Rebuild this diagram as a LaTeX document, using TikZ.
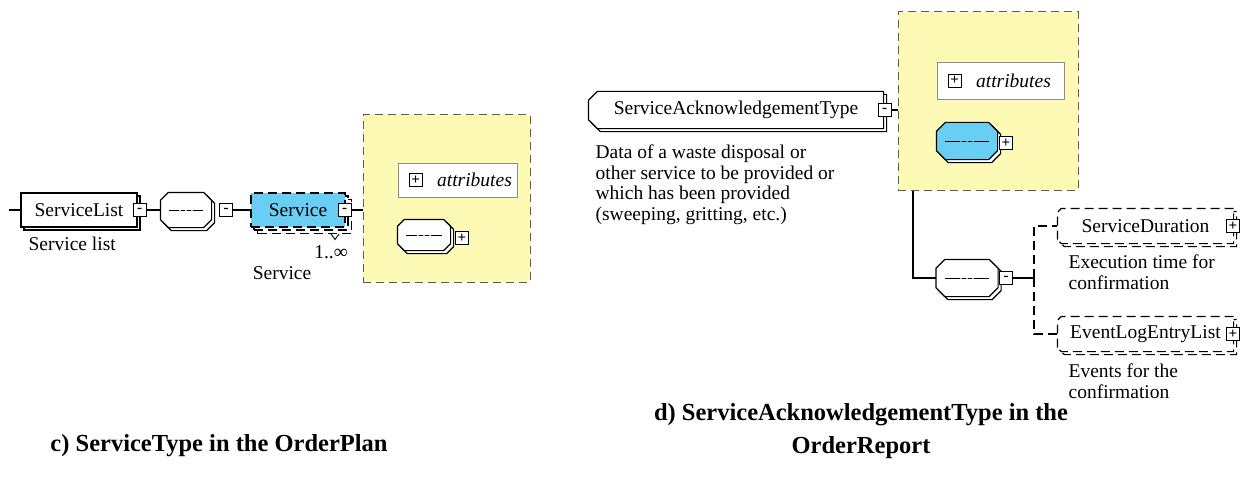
\documentclass[tikz,border=0pt]{standalone}
\usepackage{fontspec}
\setmainfont{Liberation Serif}
\usetikzlibrary{positioning,shadows}

\definecolor{xsdblue}{RGB}{104,206,244}
\definecolor{xsdyellow}{RGB}{252,250,180}
\definecolor{xsdgray}{RGB}{95,92,80}

\newcommand{\lblsize}{\fontsize{19.5}{20.7}\selectfont}

% box with cut-off corners (left and right cut can differ)
\makeatletter
\pgfkeys{/pgf/cut left/.initial=8pt, /pgf/cut right/.initial=8pt}
\pgfdeclareshape{cutbox}{%
  \inheritsavedanchors[from=rectangle]%
  \inheritanchorborder[from=rectangle]%
  \inheritanchor[from=rectangle]{center}%
  \inheritanchor[from=rectangle]{north}%
  \inheritanchor[from=rectangle]{south}%
  \inheritanchor[from=rectangle]{east}%
  \inheritanchor[from=rectangle]{west}%
  \inheritanchor[from=rectangle]{north east}%
  \inheritanchor[from=rectangle]{north west}%
  \inheritanchor[from=rectangle]{south east}%
  \inheritanchor[from=rectangle]{south west}%
  \inheritanchor[from=rectangle]{base}%
  \inheritanchor[from=rectangle]{mid}%
  \saveddimen\cutl{\pgfmathsetlength\pgf@x{\pgfkeysvalueof{/pgf/cut left}}}%
  \saveddimen\cutr{\pgfmathsetlength\pgf@x{\pgfkeysvalueof{/pgf/cut right}}}%
  \backgroundpath{%
    \southwest \edef\cxa{\the\pgf@x}\edef\cya{\the\pgf@y}%
    \northeast \edef\cxb{\the\pgf@x}\edef\cyb{\the\pgf@y}%
    \pgfpathmoveto{\pgfqpoint{\cxa}{\dimexpr\cya+\cutl\relax}}%
    \pgfpathlineto{\pgfqpoint{\cxa}{\dimexpr\cyb-\cutl\relax}}%
    \pgfpathlineto{\pgfqpoint{\dimexpr\cxa+\cutl\relax}{\cyb}}%
    \pgfpathlineto{\pgfqpoint{\dimexpr\cxb-\cutr\relax}{\cyb}}%
    \pgfpathlineto{\pgfqpoint{\cxb}{\dimexpr\cyb-\cutr\relax}}%
    \pgfpathlineto{\pgfqpoint{\cxb}{\dimexpr\cya+\cutr\relax}}%
    \pgfpathlineto{\pgfqpoint{\dimexpr\cxb-\cutr\relax}{\cya}}%
    \pgfpathlineto{\pgfqpoint{\dimexpr\cxa+\cutl\relax}{\cya}}%
    \pgfpathclose
  }%
}
\makeatother

\begin{document}
\begin{tikzpicture}[x=1pt, y=-1pt, line width=1.2pt,
    dsh/.style={dash pattern=on 9pt off 5pt},
    shd/.style={copy shadow={shadow xshift=3pt, shadow yshift=-3pt, fill=white, draw=black}},
    box/.style={rectangle, draw, fill=white, minimum height=34pt, inner sep=0pt, font=\lblsize},
    el/.style={box, shd},
    elm/.style={box, copy shadow={shadow xshift=6.5pt, shadow yshift=-6.5pt, fill=white, draw=black}, shd},
    ct/.style={cutbox, cut left=9pt, cut right=0pt, draw, fill=white, shd, minimum height=36pt, inner sep=0pt, font=\lblsize},
    seq/.style={cutbox, cut left=8pt, cut right=8pt, draw, fill=white, shd, minimum width=50pt, minimum height=34pt, inner sep=0pt,
      path picture={
        \draw[line width=1pt] ([xshift=9pt]path picture bounding box.west) -- ([xshift=-9pt]path picture bounding box.east);
        \foreach \d in {-6,0,6} \fill ([xshift=\d pt]path picture bounding box.center) circle (1.1pt);}},
    tog/.style={rectangle, draw, fill=white, minimum size=13pt, inner sep=0pt, line width=0.9pt, font=\fontsize{15}{15}\selectfont\bfseries},
    grp/.style={rectangle, draw=xsdgray, fill=xsdyellow, dash pattern=on 8pt off 5pt, line width=1pt},
    attr/.style={rectangle, draw=black!45, fill=white, line width=0.8pt, minimum height=34pt},
    lbl/.style={inner sep=0pt, font=\lblsize, align=left},
    captxt/.style={inner sep=0pt, font=\fontsize{24.5}{33}\selectfont\bfseries, align=center}]
  \useasboundingbox (0,0) rectangle (1257,484);

  % c) ServiceType in the OrderPlan
  \coordinate (start) at (9,210);
  \node[el, minimum width=116pt] (SL) at (79,210) {ServiceList};
  \node[tog] (SLt) at ([xshift=2pt]SL.east) {-};
  \node[seq] (S1) at (186,210) {};
  \node[tog] (S1t) at (226,210) {-};
  \node[elm, fill=xsdblue, dsh, minimum width=94pt] (Svc) at (298,210) {Service};
  \node[tog] (Svct) at ([xshift=-1pt]Svc.east) {-};
  \draw[fill=white, line width=0.9pt] (331,234) -- (335,239.5) -- (339,234);
  \node[grp, minimum width=167pt, minimum height=167pt] (Y1) at (446.5,198.5) {};
  \node[attr, minimum width=119pt] (A1) at (457.5,180) {};
  \node[tog, right=11pt of A1.west] (A1t) {+};
  \node[lbl, font=\lblsize\itshape, right=14pt of A1t] (A1l) {attributes};
  \node[seq, cut left=7pt, cut right=7pt, minimum width=52pt, minimum height=30pt] (S2) at (424,235) {};
  \node[tog] (S2t) at (462,238) {+};

  \node[lbl, anchor=base west] (SLd) at (28,250) {Service list};
  \node[lbl, anchor=base] (Svcm) at (331,258) {1..∞};
  \node[lbl, anchor=base] (Svcd) at (282,279) {Service};

  \draw (start) -- (SL.west);
  \draw (SLt) -- (S1.west);
  \draw (S1t) -- (Svc.west);
  \draw (Svct) -- (Y1.west |- Svct);

  % d) ServiceAcknowledgementType in the OrderReport
  \node[ct, minimum width=294pt] (SAT) at (736,110) {ServiceAcknowledgementType};
  \node[tog] (SATt) at ([xshift=1pt]SAT.east) {-};
  \node[grp, minimum width=180pt, minimum height=178pt] (Y2) at (988,101) {};
  \node[attr, minimum width=127pt, minimum height=37pt] (A2) at (1000.5,80.5) {};
  \node[tog, right=11pt of A2.west] (A2t) {+};
  \node[lbl, font=\lblsize\itshape, right=14pt of A2t] (A2l) {attributes};
  \node[seq, fill=xsdblue, cut left=9pt, cut right=9pt, minimum width=60pt, minimum height=36pt] (S3) at (967,141) {};
  \node[tog] (S3t) at (1006,143) {+};
  \node[seq, cut left=9pt, cut right=9pt, minimum width=61pt, minimum height=36pt] (S4) at (967,278) {};
  \node[tog] (S4t) at (1006,278) {-};
  \coordinate (J) at (1034,278);
  \node[ct, dsh, cut left=4pt, minimum width=175pt, minimum height=34pt] (SD) at (1145.5,226) {ServiceDuration};
  \node[tog] (SDt) at (1233,226) {+};
  \node[ct, dsh, cut left=4pt, minimum width=175pt, minimum height=34pt] (ELL) at (1145.5,334) {EventLogEntryList};
  \node[tog] (ELLt) at (1233,334) {+};

  \node[lbl, anchor=base west] (SATd) at (595,220.5) {Data of a waste disposal or\\other service to be provided or\\which has been provided\\(sweeping, gritting, etc.)};
  \node[lbl, anchor=base west] (SDd) at (1068,289.5) {Execution time for\\confirmation};
  \node[lbl, anchor=base west] (ELLd) at (1068,398) {Events for the\\confirmation};

  \draw (SATt) -- (Y2.west |- SATt);
  \draw ([xshift=-75pt]Y2.south) |- (S4.west);
  \draw (S4t) -- (J);
  \draw[dsh] (J) |- (SD.west);
  \draw[dsh] (J) |- (ELL.west);

  % captions
  \node[captxt, anchor=base] (capc) at (219,451) {c) ServiceType in the OrderPlan};
  \node[captxt, anchor=base] (capd) at (861,453) {d) ServiceAcknowledgementType in the\\OrderReport};
\end{tikzpicture}
\end{document}
